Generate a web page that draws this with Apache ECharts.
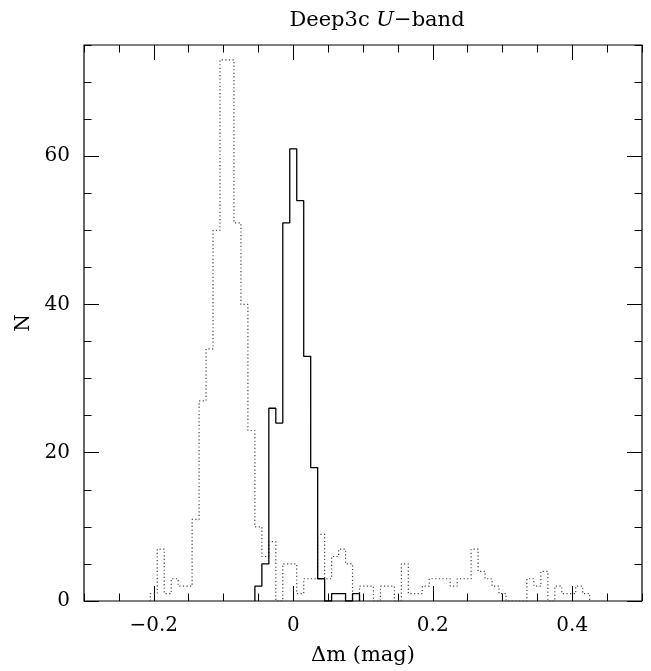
<!DOCTYPE html>
<html>
<head>
<meta charset="utf-8">
<script src="https://cdn.jsdelivr.net/npm/echarts@6/dist/echarts.min.js"></script>
<style>
  html, body { margin: 0; padding: 0; background: #fff; }
  #chart { width: 651px; height: 671px; }
</style>
</head>
<body>
<div id="chart"></div>
<script>
const binWidth = 0.01

// solid histogram
const solidCenters = [-0.05, -0.04, -0.03, -0.02, -0.01, 0.00, 0.01, 0.02, 0.03, 0.04, 0.05, 0.06, 0.07, 0.08, 0.09]
const solidCounts = [2, 5, 26, 24, 51, 61, 54, 33, 18, 3, 0, 1, 1, 0, 1]

// dotted histogram
const dottedCenters = [
  -0.20, -0.19, -0.18, -0.17, -0.16, -0.15, -0.14, -0.13, -0.12, -0.11,
  -0.10, -0.09, -0.08, -0.07, -0.06, -0.05, -0.04, -0.03, -0.02, -0.01,
  0.00, 0.01, 0.02, 0.03, 0.04, 0.05, 0.06, 0.07, 0.08, 0.09,
  0.10, 0.11, 0.12, 0.13, 0.14, 0.15, 0.16, 0.17, 0.18, 0.19,
  0.20, 0.21, 0.22, 0.23, 0.24, 0.25, 0.26, 0.27, 0.28, 0.29,
  0.30, 0.31, 0.32, 0.33, 0.34, 0.35, 0.36, 0.37, 0.38, 0.39,
  0.40, 0.41, 0.42
]
const dottedCounts = [
  1, 7, 1, 3, 2, 2, 11, 27, 34, 50,
  73, 73, 51, 40, 23, 10, 6, 8, 0, 5,
  5, 1, 3, 3, 9, 3, 6, 7, 5, 0,
  2, 2, 0, 2, 2, 0, 5, 1, 1, 2,
  3, 3, 3, 2, 3, 3, 7, 4, 3, 2,
  1, 0, 0, 0, 3, 2, 4, 0, 2, 1,
  1, 2, 1
]

const xMajorTicks = [-0.2, 0, 0.2, 0.4]
const yMajorTicks = [0, 20, 40, 60]

const font = 'DejaVu Serif'

// outline of a histogram as a list of corner points
const outline = (centers, counts) => {
  const pts = [[centers[0] - binWidth / 2, 0]]
  centers.forEach((c, i) => {
    pts.push([c - binWidth / 2, counts[i]])
    pts.push([c + binWidth / 2, counts[i]])
  })
  pts.push([centers[centers.length - 1] + binWidth / 2, 0])
  return pts
}

const xAxis = (position, major, labels) => ({
  type: 'value',
  position,
  min: -0.3,
  max: 0.5,
  interval: major ? undefined : 0.05,
  axisLine: { show: false, onZero: false },
  splitLine: { show: false },
  axisTick: {
    show: true,
    inside: true,
    length: major ? 15 : 7.5,
    customValues: major ? xMajorTicks : undefined,
    lineStyle: { color: '#000', width: 1 }
  },
  axisLabel: {
    show: labels,
    customValues: major ? xMajorTicks : undefined,
    margin: 15,
    color: '#000',
    fontFamily: font,
    fontSize: 20,
    formatter: (v) => (v < 0 ? '\u2212' + Math.abs(v) : String(v))
  },
  name: labels ? '\u0394m (mag)' : '',
  nameLocation: 'middle',
  nameGap: 44,
  nameTextStyle: { color: '#000', fontFamily: font, fontSize: 21 }
})

const yAxis = (position, major, labels) => ({
  type: 'value',
  position,
  min: 0,
  max: 75,
  interval: major ? undefined : 5,
  axisLine: { show: false, onZero: false },
  splitLine: { show: false },
  axisTick: {
    show: true,
    inside: true,
    length: major ? 15 : 7.5,
    customValues: major ? yMajorTicks : undefined,
    lineStyle: { color: '#000', width: 1 }
  },
  axisLabel: {
    show: labels,
    customValues: major ? yMajorTicks : undefined,
    margin: 14,
    color: '#000',
    fontFamily: font,
    fontSize: 20
  },
  name: labels ? 'N' : '',
  nameLocation: 'middle',
  nameGap: 50,
  nameRotate: 90,
  nameTextStyle: { color: '#000', fontFamily: font, fontSize: 20 }
})

const mChart = echarts.init(document.getElementById('chart'))
const options = {
  animation: false,
  backgroundColor: '#fff',
  title: {
    text: '{a|Deep3c }{b|U}{a|\u2212band}',
    left: 372,
    textAlign: 'center',
    top: 5,
    textStyle: {
      fontWeight: 'normal',
      rich: {
        a: { fontFamily: font, fontSize: 21, fontWeight: 'normal', color: '#000' },
        b: { fontFamily: font, fontSize: 21, fontWeight: 'normal', fontStyle: 'italic', color: '#000' }
      }
    }
  },
  grid: {
    left: 84,
    top: 45,
    width: 558,
    height: 556,
    show: true,
    borderColor: '#000',
    borderWidth: 1.2
  },
  xAxis: [
    xAxis('bottom', true, true),
    xAxis('bottom', false, false),
    xAxis('top', true, false),
    xAxis('top', false, false)
  ],
  yAxis: [
    yAxis('left', true, true),
    yAxis('left', false, false),
    yAxis('right', true, false),
    yAxis('right', false, false)
  ],
  series: [{
    type: 'line',
    xAxisIndex: 0,
    yAxisIndex: 0,
    showSymbol: false,
    silent: true,
    lineStyle: { color: '#444', width: 1.2, type: [1.2, 2.4] },
    data: outline(dottedCenters, dottedCounts)
  }, {
    type: 'line',
    xAxisIndex: 0,
    yAxisIndex: 0,
    showSymbol: false,
    silent: true,
    lineStyle: { color: '#000', width: 1.3 },
    data: outline(solidCenters, solidCounts)
  }]
}
mChart.setOption(options)
</script>
</body>
</html>
